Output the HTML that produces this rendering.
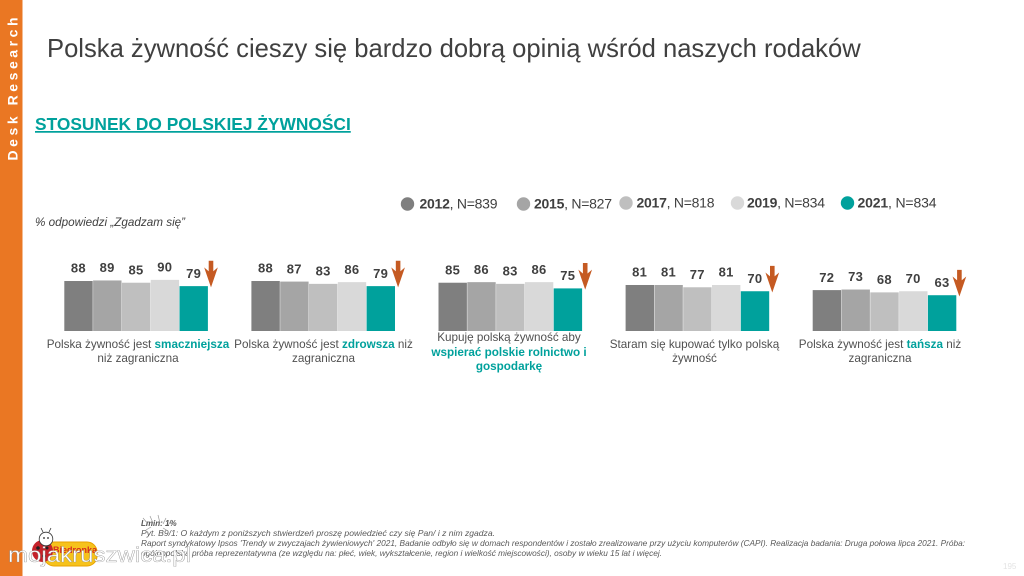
<!DOCTYPE html>
<html lang="pl">
<head>
<meta charset="utf-8">
<title>Polska żywność</title>
<style>
html,body{margin:0;padding:0;background:#fff}
body{width:1024px;height:576px;overflow:hidden;position:relative;font-family:"Liberation Sans",sans-serif}
svg{position:absolute;left:0;top:0}
text{font-family:"Liberation Sans",sans-serif}
</style>
</head>
<body>
<svg id="slide" width="1024" height="576" viewBox="0 0 1024 576" xmlns="http://www.w3.org/2000/svg">
  <rect x="0" y="0" width="22.5" height="576" fill="#ea7723"/>
  <text transform="translate(17.5,160.5) rotate(-90)" font-size="14" font-weight="700" fill="#fff" letter-spacing="3.55">Desk Research</text>
  <text x="47" y="57" font-size="25.6" fill="#404040">Polska żywność cieszy się bardzo dobrą opinią wśród naszych rodaków</text>
  <text x="35" y="130" font-size="17.35" font-weight="700" fill="#00a19c" text-decoration="underline">STOSUNEK DO POLSKIEJ ŻYWNOŚCI</text>
  <text x="35" y="226" font-size="11.7" font-style="italic" fill="#404040">% odpowiedzi „Zgadzam się”</text>

  <g>
    <g><circle cx="407.5" cy="204" r="6.7" fill="#7f7f7f"/><text x="419.500" y="208.500" font-size="14" fill="#404040" textLength="78"><tspan font-weight="700">2012</tspan>, N=839</text></g>
    <g><circle cx="523.500" cy="204" r="6.7" fill="#a5a5a5"/><text x="534" y="208.500" font-size="14" fill="#404040" textLength="78"><tspan font-weight="700">2015</tspan>, N=827</text></g>
    <g><circle cx="626" cy="203" r="6.7" fill="#bfbfbf"/><text x="636.500" y="207.500" font-size="14" fill="#404040" textLength="78"><tspan font-weight="700">2017</tspan>, N=818</text></g>
    <g><circle cx="737.500" cy="203" r="6.7" fill="#d9d9d9"/><text x="747" y="207.500" font-size="14" fill="#404040" textLength="78"><tspan font-weight="700">2019</tspan>, N=834</text></g>
    <g><circle cx="847.500" cy="203" r="6.7" fill="#00a19c"/><text x="857.500" y="207.500" font-size="14" fill="#404040" textLength="79"><tspan font-weight="700">2021</tspan>, N=834</text></g>
  </g>

  <g id="charts"></g>

  <g font-size="11.7" fill="#505050" text-anchor="middle">
    <g>
      <text x="138" y="348">Polska żywność jest <tspan font-weight="700" fill="#00a19c">smaczniejsza</tspan></text>
      <text x="138" y="362">niż zagraniczna</text>
    </g>
    <g>
      <text x="323.500" y="348">Polska żywność jest <tspan font-weight="700" fill="#00a19c">zdrowsza</tspan> niż</text>
      <text x="323.500" y="362">zagraniczna</text>
    </g>
    <g>
      <text x="509" y="341">Kupuję polską żywność aby</text>
      <text x="509" y="356" font-weight="700" fill="#00a19c">wspierać polskie rolnictwo i</text>
      <text x="509" y="370" font-weight="700" fill="#00a19c">gospodarkę</text>
    </g>
    <g>
      <text x="694.500" y="348">Staram się kupować tylko polską</text>
      <text x="694.500" y="362">żywność</text>
    </g>
    <g>
      <text x="880" y="348">Polska żywność jest <tspan font-weight="700" fill="#00a19c">tańsza</tspan> niż</text>
      <text x="880" y="362">zagraniczna</text>
    </g>
  </g>

  <g font-size="8.1" font-style="italic" fill="#595959">
    <text x="141" y="526" font-size="8" font-weight="700" fill="#555">Lmin: 1%</text>
    <text x="141" y="536" textLength="354" lengthAdjust="spacingAndGlyphs">Pyt. B9/1: O każdym z poniższych stwierdzeń proszę powiedzieć czy się Pan/ i z nim zgadza.</text>
    <text x="141" y="546" textLength="824" lengthAdjust="spacingAndGlyphs">Raport syndykatowy Ipsos 'Trendy w zwyczajach żywieniowych' 2021, Badanie odbyło się w domach respondentów i zostało zrealizowane przy użyciu komputerów (CAPI). Realizacja badania: Druga połowa lipca 2021. Próba:</text>
    <text x="141" y="556" textLength="521" lengthAdjust="spacingAndGlyphs">ogólnopolska próba reprezentatywna (ze względu na: płeć, wiek, wykształcenie, region i wielkość miejscowości), osoby w wieku 15 lat i więcej.</text>
  </g>
  <text x="1003" y="569" font-size="8" fill="#e4e4e4">195</text>

  <g>
    <rect x="44" y="542" width="53" height="24" rx="10" fill="#f6c21c" stroke="#e8a200"/>
    <text x="53" y="553" font-size="9" font-weight="700" fill="#d62b1f">Biedronka</text>
    <ellipse cx="42.500" cy="551" rx="10.500" ry="11" fill="#c5222a"/>
    <circle cx="38" cy="548" r="1.800" fill="#222"/><circle cx="44" cy="556" r="1.800" fill="#222"/><circle cx="47" cy="548" r="1.500" fill="#222"/>
    <circle cx="46" cy="539" r="6.800" fill="#fff" stroke="#333" stroke-width="0.800"/>
    <circle cx="44" cy="538" r="0.900" fill="#222"/><circle cx="48" cy="538" r="0.900" fill="#222"/>
    <path d="M43 532l-2-4M49 532l2-4" stroke="#333" stroke-width="0.800" fill="none"/>
  </g>

  <g>
    <text x="8" y="562" font-size="21" fill="#fff" stroke="#888" stroke-width="0.350" textLength="183" lengthAdjust="spacingAndGlyphs">mojakruszwica.pl</text>
    <path d="M143 518l5 6M150 516l3 7M158 515l2 8M166 518l-3 6M172 520l-4 5M146 530l5-3M163 528l5 3" stroke="#999" stroke-width="0.700" fill="none"/>
  </g>
</svg>

<script>
var years = ["2012", "2015", "2017", "2019", "2021"];
var groupNames = ["smaczniejsza", "zdrowsza", "wspierac", "tylko-polska", "tansza"];
var values2012 = [88, 88, 85, 81, 72];
var values2015 = [89, 87, 86, 81, 73];
var values2017 = [85, 83, 83, 77, 68];
var values2019 = [90, 86, 86, 81, 70];
var values2021 = [79, 79, 75, 70, 63];

var seriesValues = [values2012, values2015, values2017, values2019, values2021];
var seriesColors = ["#7f7f7f", "#a5a5a5", "#bfbfbf", "#d9d9d9", "#00a19c"];
var NS = "http://www.w3.org/2000/svg";
var root = document.getElementById("charts");
var baseline = 331;
var barWidth = 28.8;

function xGroup(g) { return 64.3 + g * 187.1; }
function xBar(g, s) { return xGroup(g) + s * barWidth; }
function yValue(v) { return baseline - v * 0.568; }

function make(tag, attrs, parent) {
  var el = document.createElementNS(NS, tag);
  for (var k in attrs) { el.setAttribute(k, attrs[k]); }
  parent.appendChild(el);
  return el;
}

groupNames.forEach(function (name, g) {
  var group = make("g", {}, root);
  
  
  years.forEach(function (year, s) {
    var v = seriesValues[s][g];
    var top = yValue(v);
    var bar = make("rect", {
      x: xBar(g, s),
      y: top,
      width: barWidth - 0.4,
      height: baseline - top,
      fill: seriesColors[s]
    }, group);
    
    
    var label = make("text", {
      x: xBar(g, s) + barWidth / 2 - 0.3,
      y: top - 8.3,
      "font-size": 13,
      "font-weight": 700,
      fill: "#404040",
      "text-anchor": "middle",
      "letter-spacing": 0.3
    }, group);
    label.textContent = v;
    
    
  });
  var tipY = yValue(seriesValues[4][g]);
  var cx = xBar(g, 4) + barWidth + 2.7;
  var arrowTop = tipY - 25;
  var arrow = make("path", {
    d: "M" + (cx - 1.9) + " " + arrowTop +
       "h3.8v11l4.100 -3.500l-6 17.500l-6 -17.500l4.100 3.500z",
    fill: "#c55a22",
    stroke: "#c55a22",
    "stroke-width": 0.8
  }, group);
  
  
});
</script>
</body>
</html>
